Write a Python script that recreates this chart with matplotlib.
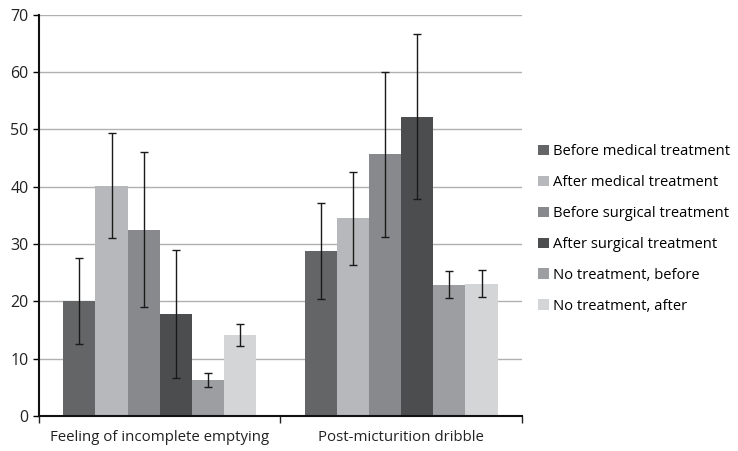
import matplotlib.pyplot as plt
import numpy as np

plt.rcParams["font.family"] = ["Open Sans", "DejaVu Sans"]

categories = ["Feeling of incomplete emptying", "Post-micturition dribble"]
series = [
    "Before medical treatment",
    "After medical treatment",
    "Before surgical treatment",
    "After surgical treatment",
    "No treatment, before",
    "No treatment, after",
]
means = [
    [20.0, 28.8],
    [40.2, 34.5],
    [32.5, 45.7],
    [17.8, 52.2],
    [6.2, 22.9],
    [14.1, 23.1],
]
errors = [
    [7.5, 8.4],
    [9.1, 8.1],
    [13.5, 14.4],
    [11.2, 14.4],
    [1.25, 2.3],
    [1.9, 2.3],
]
colors = ["#646567", "#b7b8bb", "#88898c", "#4c4d4f", "#9d9ea1", "#d4d5d7"]

fig = plt.figure(figsize=(7.38, 4.51), dpi=100)
ax = fig.add_axes([0.053, 0.078, 0.654, 0.889])

x = np.arange(len(categories))
width = 0.8 / len(series)
for i, (name, vals, errs, color) in enumerate(zip(series, means, errors, colors)):
    pos = x - 0.4 + width * (i + 0.5)
    ax.bar(pos, vals, width, color=color, label=name, zorder=2)
    ax.errorbar(pos, vals, yerr=errs, fmt="none", ecolor="#1a1a1a",
                elinewidth=1, capsize=3, capthick=1, zorder=3)

ax.set_xlim(-0.5, len(categories) - 0.5)
ax.set_ylim(0, 70)
ax.set_yticks(range(0, 71, 10))
ax.yaxis.grid(True, color="#b0b0b0", linewidth=1, zorder=0)
ax.set_axisbelow(True)

ax.set_xticks(x)
ax.set_xticklabels(categories, fontsize=10.8, color="#222222")
ax.set_xticks(np.arange(-0.5, len(categories)), minor=True)
ax.tick_params(axis="x", which="major", length=0, pad=10)
ax.tick_params(axis="x", which="minor", length=5, width=1, color="#222222")
ax.tick_params(axis="y", length=4, width=1, labelsize=11.5, labelcolor="#222222")

for side in ("top", "right"):
    ax.spines[side].set_visible(False)
for side in ("left", "bottom"):
    ax.spines[side].set_linewidth(1.5)
    ax.spines[side].set_color("#111111")

ax.legend(loc="center left", bbox_to_anchor=(1.022, 0.466), frameon=False,
          fontsize=10.6, handlelength=0.72, handleheight=0.72,
          handletextpad=0.3, labelspacing=1.08, borderaxespad=0)

fig.savefig("out.png", dpi=100)
